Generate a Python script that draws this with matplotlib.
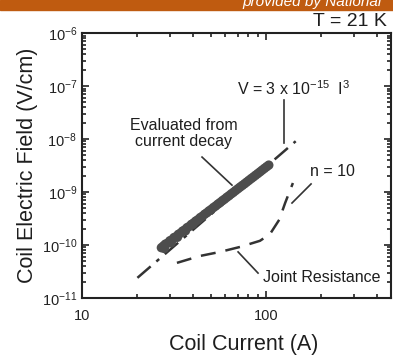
import numpy as np
import matplotlib
matplotlib.use("Agg")
import matplotlib.pyplot as plt
from matplotlib.ticker import LogLocator, LogFormatterSciNotation, NullFormatter, FuncFormatter

plt.rcParams['font.family'] = ['Liberation Sans', 'DejaVu Sans']
plt.rcParams['mathtext.fontset'] = 'custom'
plt.rcParams['mathtext.rm'] = 'Liberation Sans'
plt.rcParams['mathtext.it'] = 'Liberation Sans:italic'

# measured points (current decay), A and V/cm
decay_I = [27, 27.7, 28.4, 29.2, 30, 30.8, 31.6, 32.5, 33.4, 34.3, 35.2, 36.2,
           37.2, 38.2, 39.3, 40.4, 41.5, 42.7, 43.9, 45.1, 46.4, 47.7, 49, 50.4,
           51.8, 53.3, 54.8, 56.3, 57.9, 59.5, 61.2, 62.9, 64.7, 66.5, 68.4, 70.3,
           72.3, 74.3, 76.4, 78.5, 80.7, 83, 85.3, 87.7, 90.2, 92.7, 95.3, 98,
           100.7, 103.5, 28, 30.5, 33, 36.5, 40]
decay_E = [8.9e-11, 9.6e-11, 1.04e-10, 1.08e-10, 1.20e-10, 1.25e-10, 1.38e-10,
           1.44e-10, 1.59e-10, 1.67e-10, 1.83e-10, 1.93e-10, 2.12e-10, 2.23e-10,
           2.45e-10, 2.60e-10, 2.83e-10, 3.01e-10, 3.29e-10, 3.49e-10, 3.81e-10,
           4.06e-10, 4.40e-10, 4.70e-10, 5.10e-10, 5.46e-10, 5.92e-10, 6.33e-10,
           6.86e-10, 7.33e-10, 7.95e-10, 8.51e-10, 9.22e-10, 9.88e-10, 1.07e-9,
           1.15e-9, 1.24e-9, 1.33e-9, 1.43e-9, 1.54e-9, 1.66e-9, 1.79e-9, 1.92e-9,
           2.07e-9, 2.23e-9, 2.40e-9, 2.59e-9, 2.79e-9, 3.00e-9, 3.22e-9,
           8.6e-11, 1.10e-10, 1.40e-10, 1.85e-10, 2.45e-10]

# V = 3e-15 I^3 fit line
fit_I = [20, 145]
fit_E = [2.4e-11, 9.1e-9]

# joint resistance + n = 10
joint_I = [32.8, 43.7, 56.2, 72.3, 92.7, 105, 118, 127, 140]
joint_E = [4.6e-11, 6.2e-11, 7.4e-11, 9.2e-11, 1.2e-10, 1.6e-10, 3.0e-10, 6.2e-10, 1.48e-9]

ink = '#333333'
txt = '#1e1e1e'

fig = plt.figure(figsize=(3.93, 3.56), dpi=100)
ax = fig.add_axes([0.2087, 0.163, 0.7863, 0.744])

ax.plot(fit_I, fit_E, color=ink, lw=1.8, dashes=(7, 3, 1.5, 3))
ax.plot(joint_I, joint_E, color=ink, lw=1.8, dashes=(6, 4))
ax.scatter(decay_I, decay_E, s=46, color='#4d4d4d', edgecolors='none', zorder=3)

ax.set_xscale('log')
ax.set_yscale('log')
ax.set_xlim(10, 478)
ax.set_ylim(1e-11, 1e-6)

ax.xaxis.set_major_locator(LogLocator(base=10))
ax.xaxis.set_minor_locator(LogLocator(base=10, subs=np.arange(2, 10)))
ax.xaxis.set_minor_formatter(NullFormatter())
ax.yaxis.set_major_locator(LogLocator(base=10, numticks=10))
ax.yaxis.set_minor_locator(LogLocator(base=10, subs=np.arange(2, 10), numticks=10))
ax.yaxis.set_minor_formatter(NullFormatter())
ax.yaxis.set_major_formatter(LogFormatterSciNotation())
ax.xaxis.set_major_formatter(FuncFormatter(lambda v, p: '%d' % v))

ax.tick_params(which='both', direction='in', top=True, right=True, colors='#222222',
               labelsize=10.5, width=1.2)
ax.tick_params(axis='x', which='major', pad=8)
ax.tick_params(which='major', length=5)
ax.tick_params(which='minor', length=3)
for s in ax.spines.values():
    s.set_linewidth(1.5)
    s.set_color('#222222')

ax.set_xlabel('Coil Current (A)', fontsize=15.5, color=txt)
ax.xaxis.set_label_coords(0.524, -0.135)
ax.set_ylabel('Coil Electric Field (V/cm)', fontsize=15.5, color=txt, labelpad=3)

# annotations
ax.text(69.5, 9.1e-8, r'V = 3 x 10$^{-15}$  I$^{3}$', fontsize=11.5, color=txt, va='center')
ax.plot([125, 125], [5.4e-8, 8.4e-9], color=ink, lw=1.2)
ax.text(35.8, 1.27e-8, 'Evaluated from\ncurrent decay', fontsize=11.5, color=txt,
        ha='center', va='center', linespacing=1.15)
ax.plot([44.9, 65.3], [4.57e-9, 1.35e-9], color=ink, lw=1.2)
ax.text(173.4, 2.4e-9, 'n = 10', fontsize=11.5, color=txt, va='center')
ax.plot([175.7, 138.4], [1.42e-9, 6.2e-10], color=ink, lw=1.2)
ax.text(96.4, 2.4e-11, 'Joint Resistance', fontsize=11.5, color=txt, va='center')
ax.plot([70.5, 90.5], [7.4e-11, 2.95e-11], color=ink, lw=1.2)

# header strip and temperature label
fig.patches.append(plt.Rectangle((0, 1 - 10 / 356), 1, 10 / 356, transform=fig.transFigure,
                                 color='#bf5b10', zorder=0))
fig.text(242 / 393, 1 - 6 / 356, 'provided by National', color='white', style='italic',
         fontsize=11, va='baseline')
fig.text(313 / 393, 1 - 26 / 356, 'T = 21 K', fontsize=14, color=txt, va='baseline')

fig.savefig('out.png', dpi=100)
